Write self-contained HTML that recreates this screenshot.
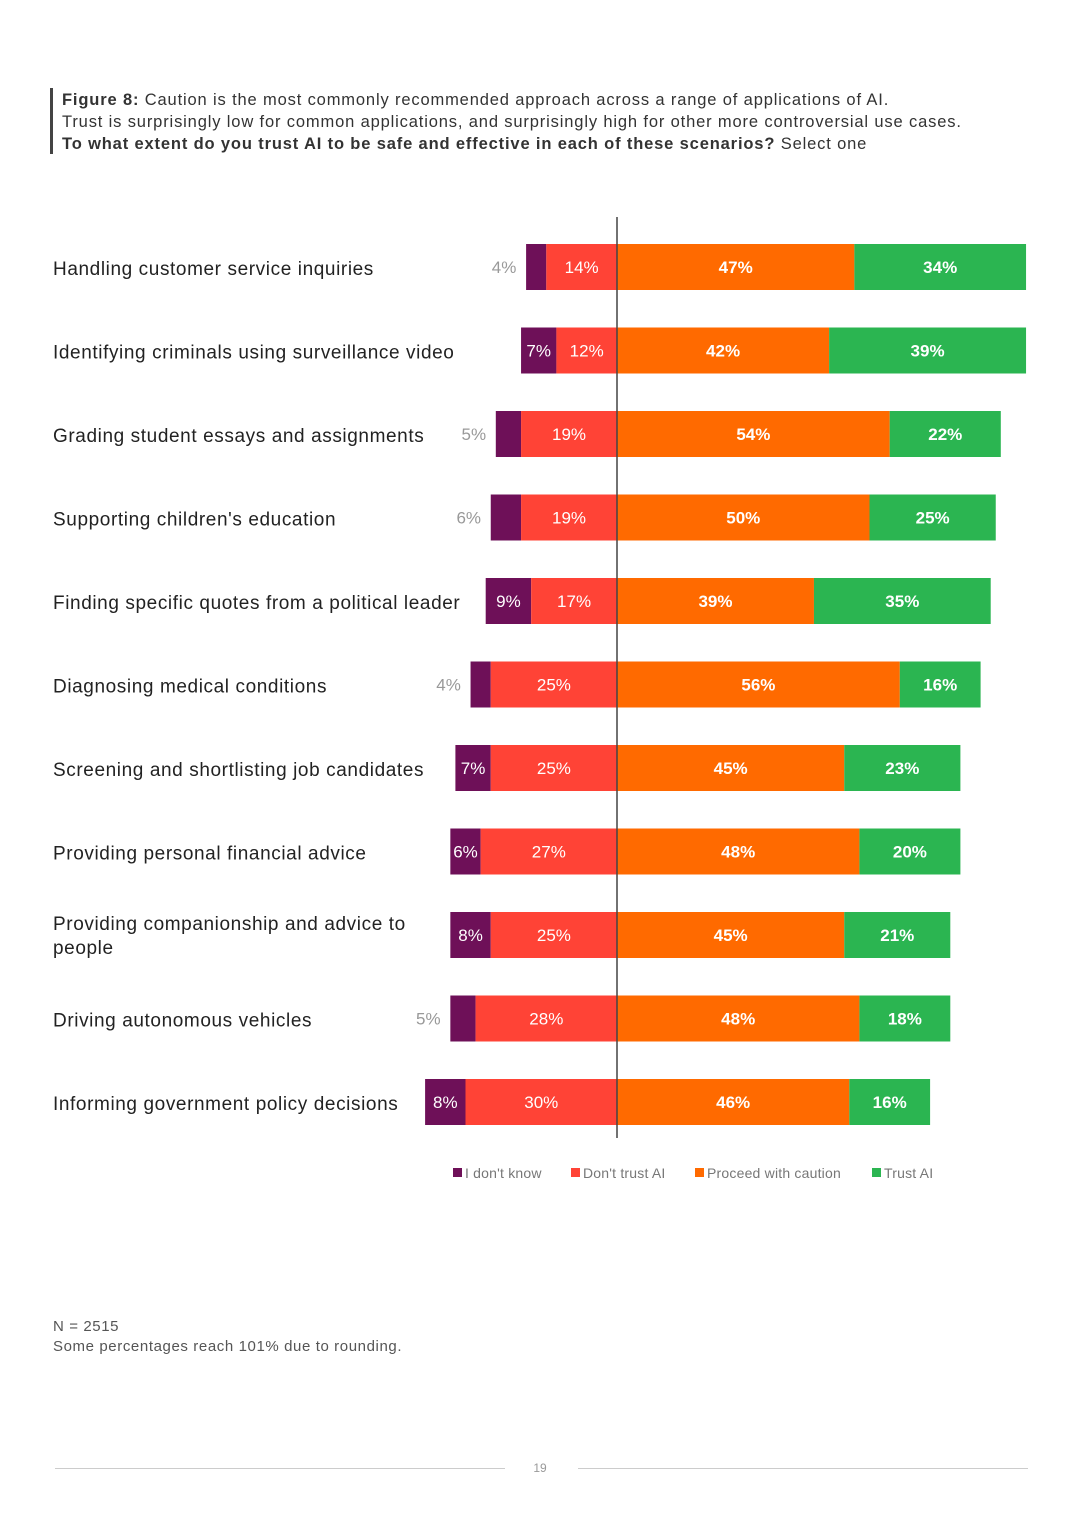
<!DOCTYPE html>
<html><head><meta charset="utf-8"><style>
body{margin:0;background:#fff;width:1080px;height:1527px;position:relative;font-family:"Liberation Sans",sans-serif;overflow:hidden}
.t{position:absolute;left:62px;font-size:16.5px;color:#333;line-height:22px;white-space:nowrap;letter-spacing:0.85px}
</style></head><body>
<div style="position:absolute;left:50px;top:88px;width:3px;height:66px;background:#444"></div>
<div class="t" style="top:89px"><b>Figure 8:</b> Caution is the most commonly recommended approach across a range of applications of AI.<br>Trust is surprisingly low for common applications, and surprisingly high for other more controversial use cases.<br><b>To what extent do you trust AI to be safe and effective in each of these scenarios?</b> Select one</div>
<svg id="c" width="1080" height="1527" style="position:absolute;left:0;top:0"></svg>
<div style="position:absolute;left:53px;top:1317px;font-size:15px;color:#555;line-height:20px;letter-spacing:0.6px">N = 2515<br>Some percentages reach 101% due to rounding.</div>
<div style="position:absolute;left:55px;top:1468px;width:450px;height:1px;background:#ccc"></div>
<div style="position:absolute;left:578px;top:1468px;width:450px;height:1px;background:#ccc"></div>
<div style="position:absolute;left:520px;width:40px;text-align:center;top:1461px;font-size:12px;color:#999">19</div>
<script>
const categories=["Handling customer service inquiries","Identifying criminals using surveillance video","Grading student essays and assignments","Supporting children's education","Finding specific quotes from a political leader","Diagnosing medical conditions","Screening and shortlisting job candidates","Providing personal financial advice","Providing companionship and advice to|people","Driving autonomous vehicles","Informing government policy decisions"];
const dontKnow=[4,7,5,6,9,4,7,6,8,5,8];
const dontTrust=[14,12,19,19,17,25,25,27,25,28,30];
const caution=[47,42,54,50,39,56,45,48,45,48,46];
const trust=[34,39,22,25,35,16,23,20,21,18,16];
const dkInside=[false,true,false,false,true,false,true,true,true,false,true];
const seriesNames=["I don't know","Don't trust AI","Proceed with caution","Trust AI"];
const colors=["#6e1058","#ff4336","#ff6a00","#2bb551"];
const NS="http://www.w3.org/2000/svg",svg=document.getElementById('c');
const cx=617,k=5.05,y0=267,step=83.5,bh=46;
const X=v=>cx+v*k, Y=i=>y0+i*step;
function el(t,a,txt){const e=document.createElementNS(NS,t);for(const n in a)e.setAttribute(n,a[n]);if(txt!=null)e.textContent=txt;svg.appendChild(e);return e;}
categories.forEach((c,i)=>{
  const y=Y(i);
  const lines=c.split('|');
  const lab=el('text',{x:53,y:y+(lines.length>1?-5:8),'font-size':19,fill:'#222','letter-spacing':0.6});
  
  
  lines.forEach((l,j)=>{const ts=document.createElementNS(NS,'tspan');ts.setAttribute('x',53);ts.setAttribute('dy',j?24:0);ts.textContent=l;lab.appendChild(ts);});
  const segs=[[-(dontTrust[i]+dontKnow[i]),dontKnow[i]],[-dontTrust[i],dontTrust[i]],[0,caution[i]],[caution[i],trust[i]]];
  segs.forEach((s,j)=>{
    const r=el('rect',{x:X(s[0]),y:y-bh/2,width:s[1]*k,height:bh,fill:colors[j]});
    
    
    let tx=X(s[0])+s[1]*k/2,fill='#fff',w=j>=2?'bold':'normal';
    if(j===0&&!dkInside[i]){tx=X(s[0])-22;fill='#999';}
    const t=el('text',{x:tx,y:y+6,'font-size':17,fill:fill,'font-weight':w,'text-anchor':'middle'},s[1]+'%');
    
    
  });
});
const ax=el('line',{x1:cx,x2:cx,y1:217,y2:1138,stroke:'#444','stroke-width':1.5});


const lx=[453,571,695,872];
seriesNames.forEach((n,j)=>{
  const r=el('rect',{x:lx[j],y:1168,width:9,height:9,fill:colors[j]});
  
  
  const t=el('text',{x:lx[j]+12,y:1178,'font-size':14,fill:'#777','letter-spacing':0.2},n);
  
  
});
</script>
</body></html>
